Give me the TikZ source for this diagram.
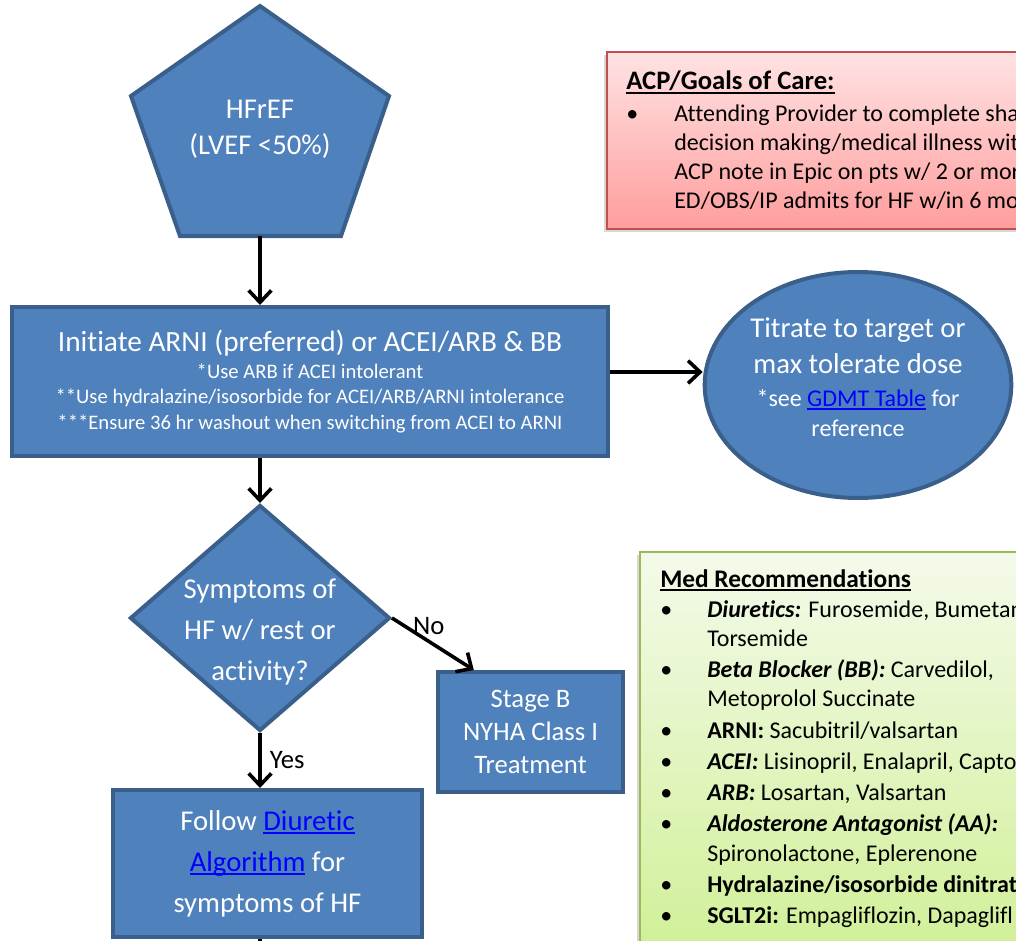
\documentclass[tikz,border=0pt]{standalone}
\usepackage{fontspec}
\setmainfont{Carlito}[Ligatures={NoCommon}, RawFeature={-calt}]
\usetikzlibrary{arrows.meta,shapes.geometric,shadows,calc}

\definecolor{shapeblue}{HTML}{4F81BD}
\definecolor{shapeline}{HTML}{3A5F8B}
\definecolor{linkblue}{HTML}{0000FF}
\definecolor{acpline}{HTML}{C0504D}
\definecolor{acptop}{HTML}{FFE3E3}
\definecolor{acpbottom}{HTML}{FF9D9D}
\definecolor{medline}{HTML}{9BBB59}
\definecolor{medtop}{HTML}{F4FAEA}
\definecolor{medbottom}{HTML}{CDEF90}

\newcommand{\fsz}[2]{\fontsize{#1}{#2}\selectfont}
\newcommand{\ulink}[1]{{\color{linkblue}\setbox0\hbox{#1}\rlap{\rule[-2.6pt]{\wd0}{1.1pt}}\box0}}
\newcommand{\ulhead}[1]{\setbox0\hbox{\bfseries #1}\rlap{\rule[-3pt]{\wd0}{1.2pt}}\box0}

\tikzset{
  shapefill/.style={draw=shapeline, fill=shapeblue, line width=3pt},
  boxnode/.style={shapefill, rectangle, text=white, align=center, inner sep=0pt},
  flow/.style={draw=black, line width=2.7pt, -{Straight Barb[length=9pt, width=17pt]}},
  whitetxt/.style={text=white, align=center, inner sep=0pt},
  edgelbl/.style={font=\fsz{20}{24}, text=black, inner sep=1pt},
  notebox/.style={rectangle, line width=1.5pt, inner sep=0pt, anchor=north west,
    drop shadow={shadow xshift=-2pt, shadow yshift=-2pt, opacity=0.3}},
}

\begin{document}
\begin{tikzpicture}[x=0.75pt, y=-0.75pt]
\useasboundingbox (0,0) rectangle (1016,941);
\clip (0,0) rectangle (1016,941);
\fill[white] (0,0) rectangle (1016,941);

% start shape
\draw[shapefill] (260,6) -- (389,96) -- (341,236) -- (180,236) -- (131,96) -- cycle;
\node[whitetxt, font=\fsz{21.5}{27}] (hfref) at (260,129) {HFrEF\\(LVEF <50\%)};
\coordinate (hfrefbot) at (260,236);

\node[boxnode, minimum width=447pt, minimum height=111.75pt, font=\fsz{15.5}{19}] (initiate) at (310,381.5)
  {\fsz{22}{19}Initiate ARNI (preferred) or ACEI/ARB \& BB\\[1.25pt]
   \fsz{15.5}{19}*Use ARB if ACEI intolerant\\
   \fsz{15.5}{19}**Use hydralazine/isosorbide for ACEI/ARB/ARNI intolerance\\
   \fsz{15.5}{19}***Ensure 36 hr washout when switching from ACEI to ARNI};

\node[shapefill, ellipse, minimum width=230pt, minimum height=169.5pt, inner sep=0pt] (titrate) at (858,385) {};
\node[whitetxt, font=\fsz{18}{22.5}] (titratetxt) at (858,377)
  {\fsz{21.5}{22.5}Titrate to target or\\[4.5pt]
   \fsz{21.5}{22.5}max tolerate dose\\[2.25pt]
   \fsz{18}{22.5}*see \ulink{GDMT Table} for\\
   \fsz{18}{22.5}reference};

\node[shapefill, diamond, minimum width=195pt, minimum height=169.5pt, inner sep=0pt] (symp) at (260,618) {};
\node[whitetxt, font=\fsz{21.5}{30.75}] (symptxt) at (260,631.5) {Symptoms of\\HF w/ rest or\\activity?};

\node[boxnode, minimum width=138.75pt, minimum height=90pt, font=\fsz{20}{24.75}] (stageb) at (530.5,732)
  {Stage B\\NYHA Class I\\Treatment};

\node[boxnode, minimum width=231.75pt, minimum height=110.25pt, font=\fsz{21.5}{30.75}] (follow) at (267.5,863.5)
  {Follow \ulink{Diuretic}\\\ulink{Algorithm} for\\symptoms of HF};

% side notes
\node[notebox, draw=acpline, top color=acptop, bottom color=acpbottom,
  minimum width=340pt, minimum height=132.75pt] (acp) at (606,51) {};
\node[anchor=base west, inner sep=0pt, font=\fsz{18}{21.75}] (acptxt) at (626,90)
  {\begin{tabular}[t]{@{}p{36pt}@{}l@{}}
   \multicolumn{2}{@{}l@{}}{\fsz{20}{21.75}\ulhead{ACP/Goals of Care:}}\\[2.25pt]
   \textbullet & Attending Provider to complete sha\\
   & decision making/medical illness wit\\
   & ACP note in Epic on pts w/ 2 or mor\\
   & ED/OBS/IP admits for HF w/in 6 mo
   \end{tabular}};

\node[notebox, draw=medline, top color=medtop, bottom color=medbottom,
  minimum width=315.75pt, minimum height=329pt] (med) at (639,551) {};
\node[anchor=base west, inner sep=0pt, font=\fsz{18}{22}] (medtxt) at (660,587)
  {\begin{tabular}[t]{@{}p{35.25pt}@{}l@{}}
   \multicolumn{2}{@{}l@{}}{\fsz{19}{22}\ulhead{Med Recommendations}}\\[0.5pt]
   \textbullet & \textbf{\textit{Diuretics:}} Furosemide, Bumetan\\
   & Torsemide\\[1.4pt]
   \textbullet & \textbf{\textit{Beta Blocker (BB):}} Carvedilol,\\
   & Metoprolol Succinate\\[1.4pt]
   \textbullet & \textbf{ARNI:} Sacubitril/valsartan\\[1.4pt]
   \textbullet & \textbf{\textit{ACEI:}} Lisinopril, Enalapril, Capto\\[1.4pt]
   \textbullet & \textbf{\textit{ARB:}} Losartan, Valsartan\\[1.4pt]
   \textbullet & \textbf{\textit{Aldosterone Antagonist (AA):}}\\
   & Spironolactone, Eplerenone\\[1.4pt]
   \textbullet & \textbf{Hydralazine/isosorbide dinitrat}\\[1.4pt]
   \textbullet & \textbf{SGLT2i:} Empagliflozin, Dapaglifl
   \end{tabular}};

% connectors
\coordinate (nextstep) at (260,990);
\draw[flow] (hfrefbot) -- (initiate.north -| hfrefbot);
\draw[flow] (initiate.east |- 0,372) -- (titrate.west |- 0,372);
\draw[flow] (initiate.south -| symp.north) -- (symp.north);
\draw[flow] (symp.east) -- node[edgelbl, pos=0.45, above=3pt] (nolbl) {No}
  ($(stageb.north west)!0.2!(stageb.north east)$);
\draw[flow] (symp.south) -- node[edgelbl, midway, right=5pt] (yeslbl) {Yes} (symp.south |- follow.north);
\draw[flow] (follow.south -| symp.south) -- (nextstep);
\end{tikzpicture}
\end{document}
